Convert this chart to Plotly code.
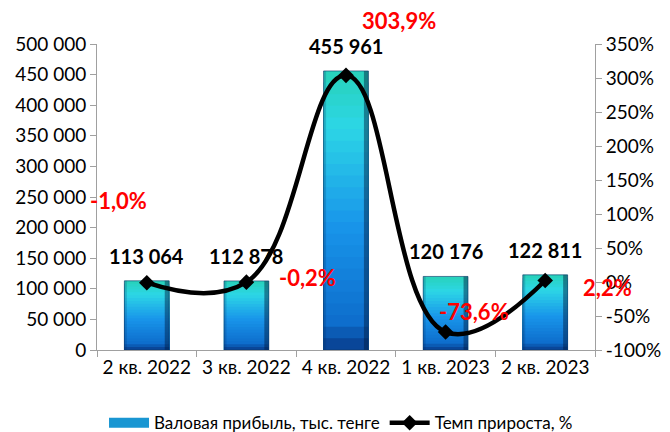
import plotly.graph_objects as go

categories = ["2 кв. 2022", "3 кв. 2022", "4 кв. 2022", "1 кв. 2023", "2 кв. 2023"]
profit = [113064, 112878, 455961, 120176, 122811]
profit_labels = ["113 064", "112 878", "455 961", "120 176", "122 811"]
growth = [-1.0, -0.2, 303.9, -73.6, 2.2]
growth_labels = ["-1,0%", "-0,2%", "303,9%", "-73,6%", "2,2%"]
left_ticks = [0, 50000, 100000, 150000, 200000, 250000, 300000, 350000, 400000, 450000, 500000]
left_labels = ["0", "50 000", "100 000", "150 000", "200 000", "250 000", "300 000",
               "350 000", "400 000", "450 000", "500 000"]
right_ticks = [-100, -50, 0, 50, 100, 150, 200, 250, 300, 350]
right_labels = ["-100%", "-50%", "0%", "50%", "100%", "150%", "200%", "250%", "300%", "350%"]

FONT = "Lato"
fig = go.Figure()

# gradient-like bars: overlay layers from dark blue (bottom) to cyan/teal (top)
stops = [(0.0, (8, 60, 140)), (0.1, (14, 110, 205)), (0.45, (25, 150, 235)),
         (0.8, (45, 215, 230)), (1.0, (40, 210, 185))]

def col(t):
    for (t0, c0), (t1, c1) in zip(stops[:-1], stops[1:]):
        if t0 <= t <= t1:
            u = (t - t0) / (t1 - t0)
            return tuple(int(c0[i] + (c1[i] - c0[i]) * u) for i in range(3))
    return stops[-1][1]

N = 24
BW = 0.45
for k in range(N, 0, -1):
    f = k / N
    c = col((k - 0.5) / N)
    fig.add_trace(go.Bar(
        x=categories, y=[v * f for v in profit],
        marker=dict(color="rgb(%d,%d,%d)" % c, line=dict(width=0)),
        width=BW, showlegend=False, hoverinfo="skip",
    ))
# bevel edges
fig.add_trace(go.Bar(
    x=categories, y=profit, width=0.045, offset=BW / 2 - 0.045,
    marker=dict(color="rgba(0,25,60,0.45)", line=dict(width=0)),
    showlegend=False, hoverinfo="skip",
))
fig.add_trace(go.Bar(
    x=categories, y=profit, width=0.025, offset=-BW / 2,
    marker=dict(color="rgba(0,40,90,0.2)", line=dict(width=0)),
    showlegend=False, hoverinfo="skip",
))
# outline
fig.add_trace(go.Bar(
    x=categories, y=profit, width=BW,
    marker=dict(color="rgba(0,0,0,0)", line=dict(color="rgba(10,50,100,0.6)", width=1)),
    showlegend=False, hoverinfo="skip",
))
# legend entry for bars (wide rectangle look)
fig.add_trace(go.Scatter(
    x=[None], y=[None], mode="lines", name="Валовая прибыль, тыс. тенге",
    line=dict(color="rgb(25,150,210)", width=11),
))

fig.add_trace(go.Scatter(
    x=categories, y=growth, yaxis="y2", mode="lines+markers",
    line=dict(color="black", width=4.5, shape="spline", smoothing=1.2),
    marker=dict(symbol="diamond", size=12, color="black"),
    name="Темп прироста, %",
))

for c, v, t in zip(categories, profit, profit_labels):
    fig.add_annotation(x=c, y=v, text="<b>" + t + "</b>", showarrow=False,
                       yshift=25, font=dict(family=FONT, size=20, color="black"))

shifts = [(-28, 82), (61, 5), (53, 55), (28, 21), (62, -7)]
for c, v, t, (dx, dy) in zip(categories, growth, growth_labels, shifts):
    fig.add_annotation(x=c, y=v, yref="y2", text="<b>" + t + "</b>", showarrow=False,
                       xshift=dx, yshift=dy, font=dict(family=FONT, size=22, color="red"))

fig.update_layout(
    width=670, height=432,
    margin=dict(l=89, r=83, t=36, b=90, autoexpand=False),
    paper_bgcolor="white", plot_bgcolor="white",
    barmode="overlay",
    font=dict(family=FONT, size=19, color="black"),
    showlegend=True,
    legend=dict(orientation="h", x=0.49, xanchor="center", y=-0.239, yanchor="middle",
                font=dict(family=FONT, size=17), traceorder="normal", itemwidth=40),
    xaxis=dict(range=[-0.5, 4.5], showline=True, linecolor="#a0a0a0", ticks="outside",
               tickcolor="#a0a0a0", ticklen=6, tickson="boundaries", showgrid=False,
               tickfont=dict(family=FONT, size=19)),
    yaxis=dict(range=[0, 500000], tickvals=left_ticks, ticktext=left_labels,
               showline=True, linecolor="#a0a0a0", ticks="outside", tickcolor="#a0a0a0",
               ticklen=6, showgrid=False, zeroline=False,
               tickfont=dict(family=FONT, size=19)),
    yaxis2=dict(range=[-100, 350], tickvals=right_ticks, ticktext=right_labels,
                overlaying="y", side="right", showline=True, linecolor="#a0a0a0",
                ticks="outside", tickcolor="#a0a0a0", ticklen=6, showgrid=False,
                zeroline=False, tickfont=dict(family=FONT, size=19)),
)

fig.write_html("out.html")
